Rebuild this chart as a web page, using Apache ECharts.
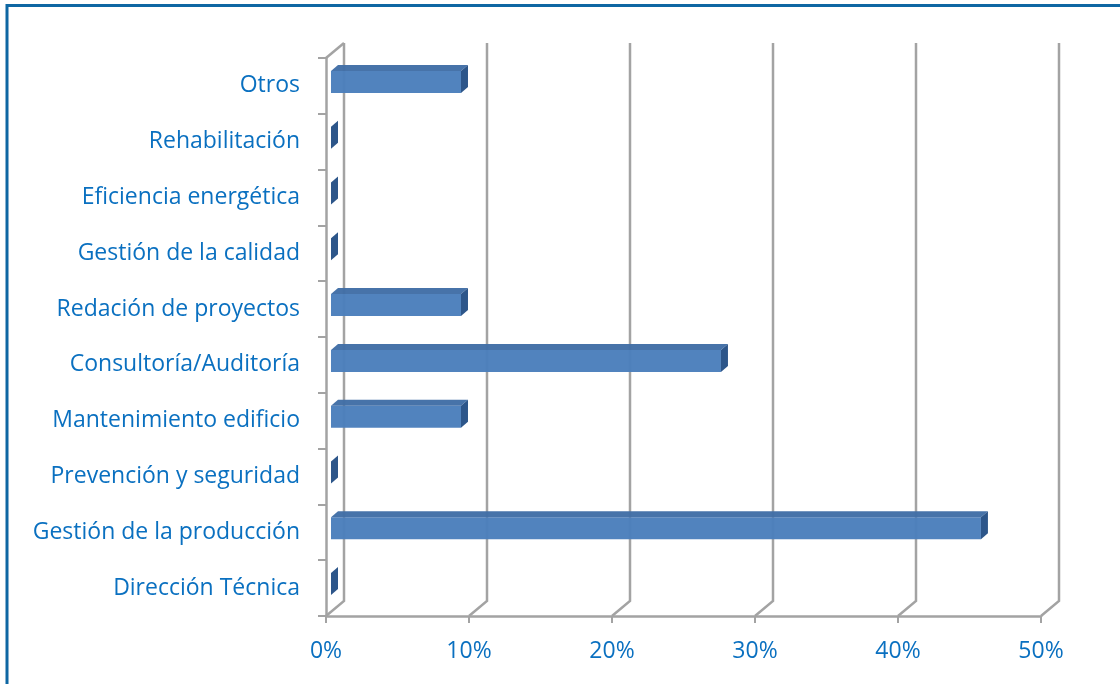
<!DOCTYPE html>
<html><head><meta charset="utf-8">
<script src="https://cdn.jsdelivr.net/npm/echarts@6/dist/echarts.min.js"></script>
<style>html,body{margin:0;padding:0;background:#fff}#c{width:1120px;height:684px}</style>
</head><body><div id="c"></div>
<script>
// Categories listed bottom-to-top (as in the original chart)
const categories = [
  'Dirección Técnica',
  'Gestión de la producción',
  'Prevención y seguridad',
  'Mantenimiento edificio',
  'Consultoría/Auditoría',
  'Redación de proyectos',
  'Gestión de la calidad',
  'Eficiencia energética',
  'Rehabilitación',
  'Otros'
];
const percentages = [0, 45.45, 0, 9.09, 27.27, 9.09, 0, 0, 0, 9.09];
const xTicks = [0, 10, 20, 30, 40, 50];

const DX = 18, DY = -15;           // depth offset of back wall
const GRID = '#a3a3a3';
const TXT = '#0a70c0';
const FONT = 'Open Sans';

function renderGrid(params, api) {
  const cs = params.coordSys;
  const v = api.value(0);
  const xf = api.coord([v, 0])[0];
  const top = cs.y, bot = cs.y + cs.height;
  const children = [{
    type: 'polyline',
    shape: { points: [[xf + DX, top + DY], [xf + DX, bot + DY], [xf, bot]] },
    style: { stroke: GRID, lineWidth: 2.5, fill: null }
  }];
  if (params.dataIndex === 0) {
    children.push({
      type: 'polyline',
      shape: { points: [[xf, top], [xf + DX, top + DY]] },
      style: { stroke: GRID, lineWidth: 2.5, fill: null }
    });
  }
  return { type: 'group', children };
}

function renderBar(params, api) {
  const v = api.value(0), idx = api.value(1);
  const p0 = api.coord([0, idx]), p1 = api.coord([v, idx]);
  const band = api.size([0, 1])[1];
  const h = band * 0.395;
  const ox = 5, oy = -4, dx = 7, dy = -6;
  const x0 = p0[0] + ox, x1 = p1[0] + ox;
  const yt = p0[1] - h / 2 + oy, yb = p0[1] + h / 2 + oy;
  const children = [];
  if (x1 - x0 > 0.5) {
    children.push({ type: 'rect', shape: { x: x0, y: yt, width: x1 - x0, height: yb - yt },
      style: { fill: '#4a7ebb', opacity: 0.96 } });
    children.push({ type: 'polygon', shape: { points: [[x0, yt], [x1, yt], [x1 + dx, yt + dy], [x0 + dx, yt + dy]] },
      style: { fill: '#3f6da6', opacity: 0.96 } });
  }
  children.push({ type: 'polygon', shape: { points: [[x1, yt], [x1 + dx, yt + dy], [x1 + dx, yb + dy], [x1, yb]] },
    style: { fill: '#2d568a' } });
  return { type: 'group', children };
}

const chart = echarts.init(document.getElementById('c'), null, { renderer: 'canvas' });
chart.setOption({
  animation: false,
  backgroundColor: '#fff',
  graphic: [{
    type: 'rect', z: 100,
    shape: { x: 7, y: 5.5, width: 1300, height: 900 },
    style: { fill: null, stroke: '#0e67a3', lineWidth: 3 }
  }],
  grid: { left: 326, right: 79, top: 58, bottom: 68, containLabel: false },
  xAxis: {
    type: 'value', min: 0, max: 50, interval: 10,
    axisLine: { show: true, lineStyle: { color: GRID, width: 2.5 } },
    axisTick: { show: true, length: 7, lineStyle: { color: GRID, width: 2 } },
    splitLine: { show: false },
    axisLabel: { formatter: '{value}%', color: TXT, fontFamily: FONT, fontSize: 23, margin: 24 }
  },
  yAxis: {
    type: 'category', data: categories,
    axisLine: { show: true, lineStyle: { color: GRID, width: 2.5 } },
    axisTick: { show: true, length: 8, lineStyle: { color: GRID, width: 2 } },
    axisLabel: { color: TXT, fontFamily: FONT, fontSize: 23, margin: 26, padding: [4, 0, 0, 0] }
  },
  series: [
    { type: 'custom', z: 1, renderItem: renderGrid, data: xTicks.map(v => [v, 0]), encode: { x: 0, y: 1 }, silent: true },
    { type: 'custom', z: 3, renderItem: renderBar, data: percentages.map((v, i) => [v, i]), encode: { x: 0, y: 1 } }
  ]
});
</script></body></html>
